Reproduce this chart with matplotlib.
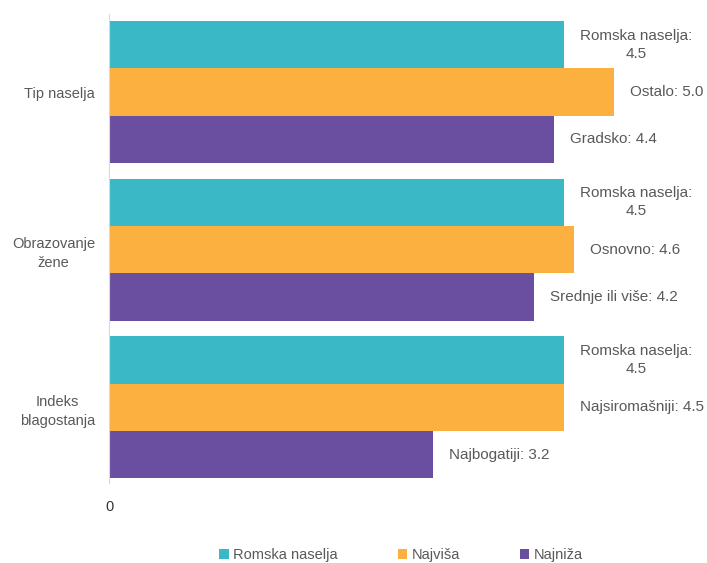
import matplotlib.pyplot as plt
import numpy as np

groups = ["Tip naselja", "Obrazovanje\nžene", "Indeks\nblagostanja"]
series = ["Romska naselja", "Najviša", "Najniža"]
romska = [4.5, 4.5, 4.5]
najvisa = [5.0, 4.6, 4.5]
najniza = [4.4, 4.2, 3.2]
najvisa_names = ["Ostalo", "Osnovno", "Najsiromašniji"]
najniza_names = ["Gradsko", "Srednje ili više", "Najbogatiji"]

colors = ["#3bb8c6", "#fbb040", "#6a4fa0"]
text_color = "#595959"

plt.rcParams["font.family"] = ["Liberation Sans", "DejaVu Sans"]

fig = plt.figure(figsize=(7.07, 5.63), dpi=100)
ax = fig.add_axes([109 / 707, 1 - 483 / 563, 1 - 109 / 707, (483 - 14) / 563])

y = np.arange(len(groups))
h = 0.3
values = [romska, najvisa, najniza]
for i, (vals, col, name) in enumerate(zip(values, colors, series)):
    ax.barh(y + (i - 1) * h, vals, height=h, color=col, label=name)

off = 16 / 101.1
fs = 11
for g in range(len(groups)):
    ax.text(romska[g] + off, y[g] - h, f"Romska naselja:\n{romska[g]:.1f}",
            ha="left", va="center", multialignment="center",
            fontsize=fs, color=text_color, linespacing=1.35)
    ax.text(najvisa[g] + off, y[g], f"{najvisa_names[g]}: {najvisa[g]:.1f}",
            ha="left", va="center", fontsize=fs, color=text_color)
    ax.text(najniza[g] + off, y[g] + h, f"{najniza_names[g]}: {najniza[g]:.1f}",
            ha="left", va="center", fontsize=fs, color=text_color)

ax.set_xlim(0, (707 - 109) / 101.1)
ax.set_ylim(2.48, -0.495)
ax.set_yticks(y)
ax.set_yticklabels(groups, fontsize=10.5, color=text_color,
                   multialignment="center", linespacing=1.45)
ax.set_xticks([0])
ax.set_xticklabels(["0"], fontsize=10.5, color="#333333")
ax.tick_params(length=0)
ax.tick_params(axis="y", pad=10)
ax.tick_params(axis="x", pad=12)
for s in ["top", "right", "bottom"]:
    ax.spines[s].set_visible(False)
ax.spines["left"].set_color("#d9d9d9")

fig.legend(loc="center", bbox_to_anchor=(0.567, 1 - 555 / 563), ncol=3, frameon=False,
           handlelength=0.65, handleheight=0.65, handletextpad=0.3, columnspacing=4.1,
           prop={"size": 10.5}, labelcolor=text_color)

fig.savefig("out.png", dpi=100)
